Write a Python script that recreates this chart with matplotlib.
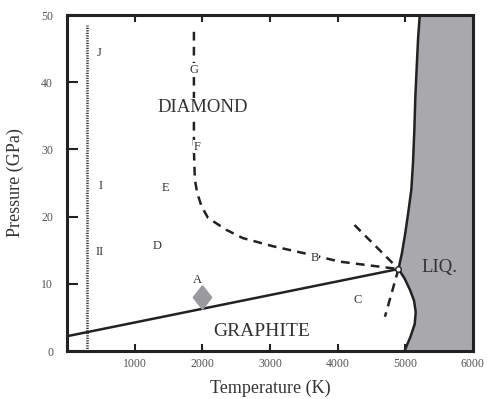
import matplotlib
matplotlib.use("Agg")
import matplotlib.pyplot as plt

plt.rcParams['font.family'] = ['Liberation Serif', 'DejaVu Serif']

# Data
# graphite-diamond equilibrium line
gd_T = [0, 4900]
gd_P = [2.2, 12.2]
# diamond melting line
melt_T = [4900, 4950, 5000, 5050, 5090, 5115, 5135, 5150, 5170, 5190, 5215]
melt_P = [12.2, 14.5, 17.5, 21.0, 24.0, 28.0, 33.0, 38.0, 42.3, 46.5, 50.0]
# graphite melting line (from 0 GPa up to triple point)
gmelt_T = [4990, 5080, 5140, 5155, 5130, 5070, 4990, 4900]
gmelt_P = [0.0, 2.2, 4.0, 5.8, 7.5, 9.1, 10.8, 12.2]
# metastable diamond boundary (dashed)
meta_T = [1876, 1876, 1890, 1925, 1990, 2085, 2360, 2600, 3040, 3660, 4030, 4500, 4900]
meta_P = [47.5, 30.0, 25.5, 23.5, 21.5, 19.8, 18.0, 16.8, 15.6, 14.2, 13.3, 12.7, 12.2]
# other dashed lines through triple point
dash1_T = [4250, 4900]
dash1_P = [18.75, 12.2]
dash2_T = [4900, 4700]
dash2_P = [12.2, 5.1]
# 300 K isotherm
iso_T = [300, 300]
iso_P = [0, 48.5]
# point A
A_T = [2000]
A_P = [8.0]

labels = ["J", "G", "DIAMOND", "F", "I", "E", "II", "D", "A", "B", "C", "LIQ.", "GRAPHITE"]
label_T = [480, 1876, 2000, 1920, 490, 1460, 490, 1340, 1920, 3660, 4300, 5510, 2880]
label_P = [44.3, 41.8, 36.2, 30.4, 24.6, 24.3, 14.7, 15.6, 10.6, 13.8, 7.6, 12.4, 2.9]
label_size = [9, 9, 13.5, 9, 9, 9, 9, 9, 9, 9, 9, 13.5, 14]
label_box = [False, True, True, True, False, False, False, False, False, True, False, False, False]

xticks = [1000, 2000, 3000, 4000, 5000, 6000]
yticks = [0, 10, 20, 30, 40, 50]

fig = plt.figure(figsize=(4.87, 3.99), dpi=100)
ax = fig.add_axes([0.1376, 0.1203, 0.8334, 0.8421])

# liquid region
fill_T = gmelt_T + melt_T[1:] + [6000, 6000]
fill_P = gmelt_P + melt_P[1:] + [50, 0]
ax.fill(fill_T, fill_P, color='#a9a9ad', zorder=1, lw=0)

ax.plot(gd_T, gd_P, color='#222222', lw=1.8, zorder=3)
ax.plot(melt_T, melt_P, color='#222222', lw=1.8, zorder=3)
ax.plot(gmelt_T, gmelt_P, color='#222222', lw=1.8, zorder=3)
for T, P in [(meta_T, meta_P), (dash1_T, dash1_P), (dash2_T, dash2_P)]:
    ax.plot(T, P, color='#222222', lw=1.8, dashes=(3.5, 2.5), zorder=3)
ax.plot(iso_T, iso_P, color='#333333', lw=1.8, linestyle=(0, (0.5, 0.5)), zorder=3)
ax.plot([4900], [12.2], marker='o', ms=4, mfc='white', mec='#222222', mew=1.0, zorder=5)
diamond = [(0, 1), (0.78, 0), (0, -1), (-0.78, 0), (0, 1)]
ax.plot(A_T, A_P, marker=diamond, ms=17, color='#9a9a9e', zorder=4, lw=0)

for s, T, P, fs, bx in zip(labels, label_T, label_P, label_size, label_box):
    kw = {}
    if bx:
        kw['bbox'] = dict(facecolor='white', edgecolor='none', pad=0.5)
    ax.text(T, P, s, fontsize=fs, color='#333333', ha='center', va='center', zorder=6, **kw)

ax.set_xlim(0, 6000)
ax.set_ylim(0, 50)
ax.set_xticks(xticks)
ax.set_yticks(yticks)
ax.tick_params(direction='in', length=5, width=1.5, labelsize=8.5, colors='#222222',
               labelcolor='#555555', top=True, right=False, pad=5)
ax.tick_params(axis='y', length=8, pad=10)
for sp in ax.spines.values():
    sp.set_linewidth(2.2)
    sp.set_color('#222222')
ax.set_xlabel('Temperature (K)', fontsize=13, color='#333333', labelpad=7)
ax.set_ylabel('Pressure (GPa)', fontsize=13, color='#333333', labelpad=12)

fig.savefig('out.png', dpi=100)
